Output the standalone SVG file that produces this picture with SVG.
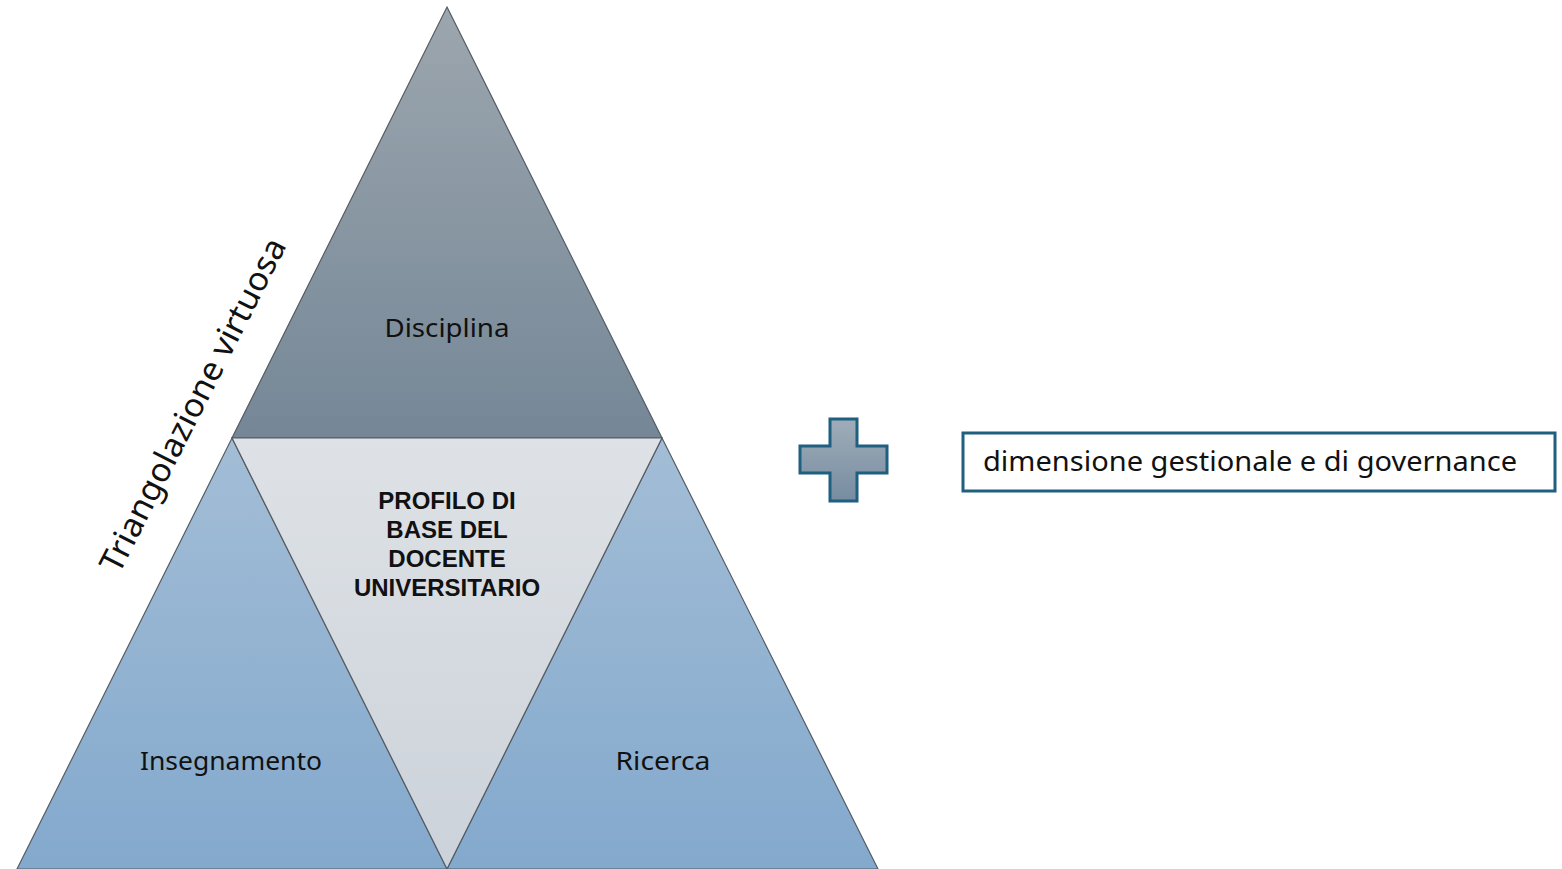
<svg xmlns="http://www.w3.org/2000/svg" width="1562" height="869" viewBox="0 0 1562 869">
<defs>
<linearGradient id="gTop" x1="0" y1="0" x2="0" y2="1"><stop offset="0" stop-color="#9ca6ae"/><stop offset="1" stop-color="#758797"/></linearGradient>
<linearGradient id="gBot" x1="0" y1="0" x2="0" y2="1"><stop offset="0" stop-color="#a3bdd6"/><stop offset="1" stop-color="#83a9cd"/></linearGradient>
<linearGradient id="gMid" x1="0" y1="0" x2="0" y2="1"><stop offset="0" stop-color="#dee2e6"/><stop offset="1" stop-color="#ccd2da"/></linearGradient>
<linearGradient id="gPlus" x1="0" y1="0" x2="0" y2="1"><stop offset="0" stop-color="#9fadb8"/><stop offset="1" stop-color="#778ca1"/></linearGradient>
<style>
.tri{stroke:#555c63;stroke-width:1.2}
.lbl{font-family:"Noto Sans","Liberation Sans",sans-serif;font-size:26px;fill:#111;text-anchor:middle}
.bold{font-family:"Liberation Sans",Arial,sans-serif;font-size:24px;font-weight:bold;fill:#111;text-anchor:middle}
</style>
</defs>
<g id="disciplina">
<polygon class="tri" points="447,7 662,438 232,438" fill="url(#gTop)"/>
<text class="lbl" x="447" y="337" textLength="125" lengthAdjust="spacingAndGlyphs">Disciplina</text>
</g>
<g id="insegnamento">
<polygon class="tri" points="232,438 447,869 17,869" fill="url(#gBot)"/>
<text class="lbl" x="231" y="770" textLength="182" lengthAdjust="spacingAndGlyphs">Insegnamento</text>
</g>
<g id="ricerca">
<polygon class="tri" points="662,438 878,869 447,869" fill="url(#gBot)"/>
<text class="lbl" x="663" y="770" textLength="95" lengthAdjust="spacingAndGlyphs">Ricerca</text>
</g>
<g id="profilo">
<polygon class="tri" points="232,438 662,438 447,869" fill="url(#gMid)"/>
<text class="bold" x="447" y="509">PROFILO DI</text>
<text class="bold" x="447" y="538">BASE DEL</text>
<text class="bold" x="447" y="567">DOCENTE</text>
<text class="bold" x="447" y="596">UNIVERSITARIO</text>
</g>
<g id="triangolazione">
<text transform="translate(119,575) rotate(-63)" font-family="'Noto Sans','Liberation Sans',sans-serif" font-size="33" fill="#111" textLength="370" lengthAdjust="spacingAndGlyphs">Triangolazione virtuosa</text>
</g>
<g id="plus">
<path d="M830,419 H857 V446 H887 V473 H857 V501 H830 V473 H800 V446 H830 Z" fill="url(#gPlus)" stroke="#1f5f80" stroke-width="3"/>
</g>
<g id="gestionale">
<rect x="963" y="433" width="592" height="58" fill="#fff" stroke="#1f5f80" stroke-width="3"/>
<text x="983" y="471" font-family="'Noto Sans','Liberation Sans',sans-serif" font-size="28" fill="#111" textLength="534" lengthAdjust="spacingAndGlyphs">dimensione gestionale e di governance</text>
</g>
<g id="connectors"/>
</svg>
